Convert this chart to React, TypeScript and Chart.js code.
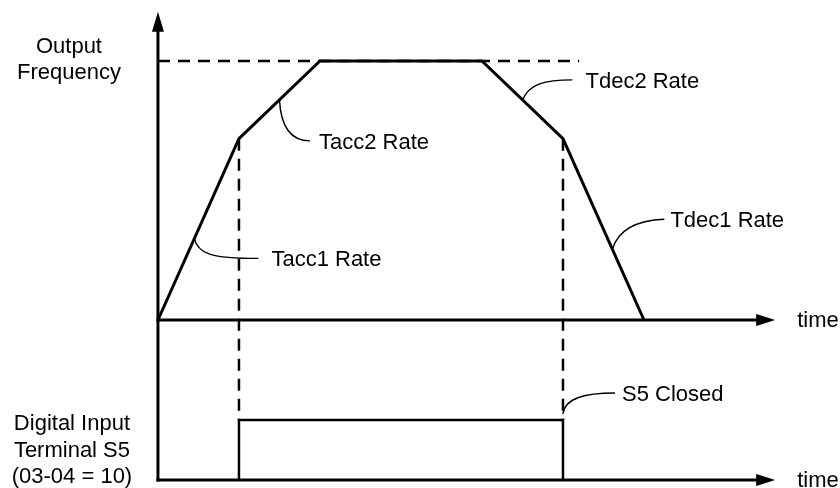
import { useEffect, useRef } from "react";
import { Chart, registerables } from "chart.js";

Chart.register(...registerables);

// Key instants of the speed profile (time units)
const profileTimes = [0, 1, 2, 4, 5, 6];
// Output frequency at those instants (% of maximum)
const profileFreq = [0, 70, 100, 100, 70, 0];
const maxFreq = 100;
const maxFreqLineEnd = 5.2;
// Digital input S5 state
const s5Times = [1, 1, 5, 5];
const s5States = [0, 1, 1, 0];
// Axis extents
const timeAxisEnd = 7.62;
const freqAxisTop = 119;

// Texts
const freqAxisTitle = ["Output", "Frequency"];
const inputAxisTitle = ["Digital Input", "Terminal S5", "(03-04 = 10)"];
const timeLabel = "time";
const rateLabels = ["Tacc1 Rate", "Tacc2 Rate", "Tdec2 Rate", "Tdec1 Rate"];
const rateSegments = [0, 1, 3, 4];
const rateFractions = [0.45, 0.5, 0.5, 0.61];
const s5Label = "S5 Closed";

const FONT = '22px "Liberation Sans", Arial, sans-serif';

// leader shapes (pixel offsets from anchor): [p1, p2, p3, textOffset]
const leaderShapes: number[][][] = [
  [[3, 15], [16, 20], [64, 20], [13, 8]],
  [[1.5, 29], [12.5, 41], [30.5, 41], [9, 8]],
  [[7, -16], [22, -20], [50, -20], [13, 8]],
  [[6, -20], [26, -29], [52, -30], [6, 8]],
];
const s5Leader: number[][] = [[2, -16], [22, -21], [52, -21], [7, 8]];

const diagramPlugin = {
  id: "diagram",
  beforeDatasetsDraw(chart: any) {
    const { ctx, scales } = chart;
    const xs = scales.x;
    const yF = scales.yF;
    const yS = scales.yS;
    const X = (v: number) => xs.getPixelForValue(v);
    ctx.save();
    ctx.strokeStyle = "#000";
    ctx.fillStyle = "#000";

    // dashed verticals linking the profile to the S5 signal
    ctx.lineWidth = 2.5;
    ctx.setLineDash([12, 8]);
    [1, 4].forEach((i) => {
      const px = X(profileTimes[i]);
      ctx.beginPath();
      ctx.moveTo(px, yF.getPixelForValue(profileFreq[i]));
      ctx.lineTo(px, yS.getPixelForValue(1));
      ctx.stroke();
    });
    ctx.setLineDash([]);

    // axes
    ctx.lineWidth = 3;
    const x0 = X(0);
    const tipTop = yF.getPixelForValue(freqAxisTop);
    const bottom = yS.getPixelForValue(0);
    ctx.beginPath();
    ctx.moveTo(x0, tipTop + 18);
    ctx.lineTo(x0, bottom + 1.5);
    ctx.stroke();
    ctx.beginPath();
    ctx.moveTo(x0, tipTop);
    ctx.lineTo(x0 - 6, tipTop + 20);
    ctx.lineTo(x0 + 6, tipTop + 20);
    ctx.closePath();
    ctx.fill();

    const tipX = X(timeAxisEnd);
    [yF.getPixelForValue(0), yS.getPixelForValue(0)].forEach((py) => {
      ctx.beginPath();
      ctx.moveTo(x0 - 1.5, py);
      ctx.lineTo(tipX - 17, py);
      ctx.stroke();
      ctx.beginPath();
      ctx.moveTo(tipX, py);
      ctx.lineTo(tipX - 19, py - 6);
      ctx.lineTo(tipX - 19, py + 6);
      ctx.closePath();
      ctx.fill();
    });
    ctx.restore();
  },
  afterDatasetsDraw(chart: any) {
    const { ctx, scales } = chart;
    const xs = scales.x;
    const yF = scales.yF;
    const yS = scales.yS;
    const X = (v: number) => xs.getPixelForValue(v);
    ctx.save();
    ctx.fillStyle = "#000";
    ctx.strokeStyle = "#000";
    ctx.font = FONT;
    ctx.textBaseline = "alphabetic";

    const x0 = X(0);
    // axis titles
    ctx.textAlign = "center";
    const yMax = yF.getPixelForValue(maxFreq);
    ctx.fillText(freqAxisTitle[0], x0 - 89, yMax - 8);
    ctx.fillText(freqAxisTitle[1], x0 - 89, yMax + 18);
    const yHigh = yS.getPixelForValue(1);
    inputAxisTitle.forEach((t, i) => {
      ctx.fillText(t, x0 - 86, yHigh + 10 + i * 26.5);
    });

    ctx.textAlign = "left";
    const tipX = X(timeAxisEnd);
    [yF.getPixelForValue(0), yS.getPixelForValue(0)].forEach((py) => {
      ctx.fillText(timeLabel, tipX + 22, py + 7);
    });

    const drawLeader = (ax: number, ay: number, shape: number[][], text: string) => {
      const [p1, p2, p3, to] = shape;
      ctx.lineWidth = 1.4;
      ctx.beginPath();
      ctx.moveTo(ax, ay);
      ctx.bezierCurveTo(ax + p1[0], ay + p1[1], ax + p2[0], ay + p2[1], ax + p3[0], ay + p3[1]);
      ctx.stroke();
      ctx.fillText(text, ax + p3[0] + to[0], ay + p3[1] + to[1]);
    };

    rateLabels.forEach((label, k) => {
      const s = rateSegments[k];
      const f = rateFractions[k];
      const t = profileTimes[s] + (profileTimes[s + 1] - profileTimes[s]) * f;
      const v = profileFreq[s] + (profileFreq[s + 1] - profileFreq[s]) * f;
      drawLeader(X(t), yF.getPixelForValue(v), leaderShapes[k], label);
    });

    drawLeader(X(s5Times[2]), yS.getPixelForValue(s5States[2]) - 6, s5Leader, s5Label);
    ctx.restore();
  },
};

export default function App() {
  const ref = useRef<HTMLCanvasElement | null>(null);
  useEffect(() => {
    document.body.style.margin = "0";
    const canvas = ref.current;
    if (!canvas) return;
    const chart = new Chart(canvas, {
      type: "line",
      data: {
        datasets: [
          {
            label: "Output Frequency",
            data: profileTimes.map((t, i) => ({ x: t, y: profileFreq[i] })),
            yAxisID: "yF",
            borderColor: "#000",
            borderWidth: 3,
            pointRadius: 0,
            tension: 0,
            fill: false,
            borderJoinStyle: "miter",
            order: 0,
          },
          {
            label: "Max frequency",
            data: [
              { x: 0, y: maxFreq },
              { x: maxFreqLineEnd, y: maxFreq },
            ],
            yAxisID: "yF",
            borderColor: "#000",
            borderWidth: 2.5,
            borderDash: [12, 8],
            pointRadius: 0,
            fill: false,
            order: 1,
          },
          {
            label: "S5",
            data: s5Times.map((t, i) => ({ x: t, y: s5States[i] })),
            yAxisID: "yS",
            borderColor: "#000",
            borderWidth: 2.5,
            pointRadius: 0,
            tension: 0,
            fill: false,
            borderJoinStyle: "miter",
            order: 0,
          },
        ],
      },
      options: {
        animation: false,
        responsive: false,
        devicePixelRatio: 1,
        events: [],
        layout: { padding: 0 },
        plugins: {
          legend: { display: false },
          tooltip: { enabled: false },
        },
        scales: {
          x: { type: "linear", display: false, min: -1.95, max: 8.42 },
          yF: { type: "linear", display: false, min: -64.86, max: 123.55 },
          yS: { type: "linear", display: false, min: -0.1333, max: 8 },
        },
      } as any,
      plugins: [diagramPlugin],
    });
    return () => chart.destroy();
  }, []);
  return (
    <div style={{ position: "fixed", left: 0, top: 0, width: 840, height: 488, background: "#fff" }}>
      <canvas ref={ref} width={840} height={488} style={{ display: "block" }} />
    </div>
  );
}
